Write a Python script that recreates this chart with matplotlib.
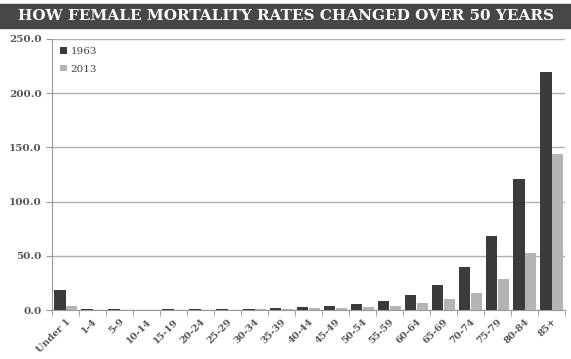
import numpy as np
import matplotlib
matplotlib.use("Agg")
import matplotlib.pyplot as plt
from matplotlib.ticker import FormatStrFormatter

age_groups = ["Under 1", "1-4", "5-9", "10-14", "15-19", "20-24", "25-29", "30-34",
              "35-39", "40-44", "45-49", "50-54", "55-59", "60-64", "65-69", "70-74",
              "75-79", "80-84", "85+"]
rates_1963 = [18.4, 1.0, 0.5, 0.4, 0.6, 0.7, 0.9, 1.3, 2.0, 3.0, 4.0, 5.5, 8.3,
              13.5, 22.7, 39.5, 68.3, 120.7, 219.5]
rates_2013 = [4.0, 0.3, 0.1, 0.1, 0.3, 0.3, 0.4, 0.6, 0.9, 1.4, 2.0, 2.7, 3.9,
              6.1, 9.8, 15.3, 28.5, 52.7, 144.0]

title = "HOW FEMALE MORTALITY RATES CHANGED OVER 50 YEARS"

fig = plt.figure(figsize=(5.71, 3.59), dpi=100)
fig.patch.set_facecolor("white")

# dark title band
fig.patches.append(plt.Rectangle((0, 1 - 28 / 359), 1, 24 / 359, transform=fig.transFigure,
                                 color="#474747", zorder=0))
fig.text(0.5, 1 - 16 / 359, title, color="white", ha="center", va="center",
         fontsize=11, fontweight="bold", family="DejaVu Serif")

ax = fig.add_axes([52 / 571, 1 - 310 / 359, 513 / 571, 271 / 359])

x = np.arange(len(age_groups))
w = 0.42
ax.bar(x - w / 2, rates_1963, w, color="#3b3b3b", label="1963", zorder=3)
ax.bar(x + w / 2, rates_2013, w, color="#b4b4b4", label="2013", zorder=3)

ax.set_xlim(-0.5, len(age_groups) - 0.5)
ax.set_ylim(0, 250)
ax.set_yticks(np.arange(0, 251, 50))
ax.yaxis.set_major_formatter(FormatStrFormatter("%.1f"))
ax.yaxis.grid(True, color="#b0b0b0", linewidth=1, zorder=0)

ax.set_xticks(x)
ax.set_xticklabels(age_groups, rotation=45, ha="right", rotation_mode="anchor",
                   fontsize=7, family="DejaVu Serif", fontweight="bold", color="#555555")
ax.set_xticks(np.arange(-0.5, len(age_groups)), minor=True)
ax.tick_params(axis="x", which="major", length=0, pad=5)
ax.tick_params(axis="x", which="minor", length=4, color="#999999")
ax.tick_params(axis="y", length=4, color="#999999", labelsize=7.5, labelcolor="#555555")
for lbl in ax.get_yticklabels():
    lbl.set_family("DejaVu Serif")
    lbl.set_fontweight("bold")

for side in ["top", "right"]:
    ax.spines[side].set_visible(False)
for side in ["left", "bottom"]:
    ax.spines[side].set_color("#999999")

leg = ax.legend(loc="upper left", frameon=False, handlelength=0.6,
                handleheight=0.6, handletextpad=0.4, borderaxespad=0.4,
                labelspacing=0.8, prop={"family": "DejaVu Serif", "size": 7.5})
for t in leg.get_texts():
    t.set_color("#444444")

fig.savefig("out.png", dpi=100)
